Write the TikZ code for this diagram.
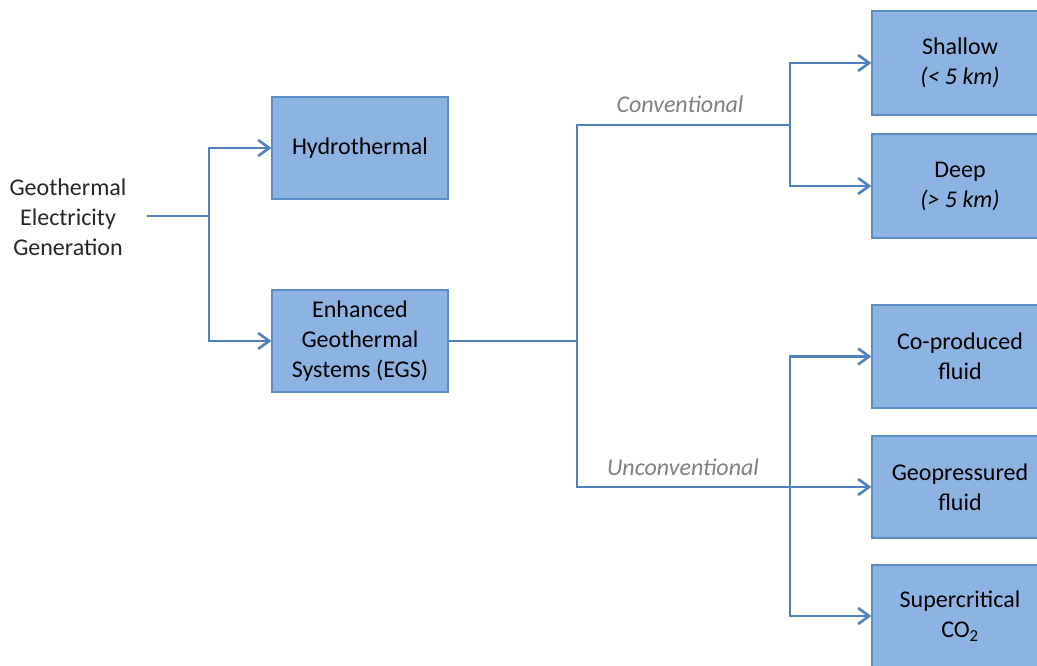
\documentclass[tikz,border=0pt]{standalone}
\usepackage{fontspec}
\setmainfont{Carlito}
\usetikzlibrary{arrows.meta}
\definecolor{boxfill}{HTML}{8DB3E2}
\definecolor{boxline}{HTML}{5B8CC8}
\definecolor{conncol}{HTML}{4F81BD}
\definecolor{lblgray}{HTML}{808080}
\tikzset{
  bx/.style={draw=boxline, line width=1.3pt, fill=boxfill, minimum width=176pt, minimum height=102pt, align=center, inner sep=0pt, font=\fontsize{24}{30}\selectfont, text=black},
  conn/.style={draw=conncol, line width=2.6pt},
  arr/.style={conn, -{Straight Barb[length=11pt,width=16pt]}},
  lbl/.style={font=\fontsize{24}{30}\selectfont\itshape, text=lblgray, inner sep=0pt}
}
\begin{document}
\begin{tikzpicture}[x=1pt,y=-1pt]
\useasboundingbox (0,0) rectangle (1037,666);
\clip (0,0) rectangle (1037,666);
\node[align=center, font=\fontsize{24}{30}\selectfont, text=black!85, inner xsep=20pt, inner ysep=0pt] (src) at (68,217) {Geothermal\\Electricity\\Generation};
\node[bx] (hyd) at (360,148) {Hydrothermal};
\node[bx] (egs) at (360,341) {Enhanced\\Geothermal\\Systems (EGS)};
\node[bx, minimum height=104pt] (sha) at (960,63) {Shallow\\\textit{(< 5 km)}};
\node[bx, minimum height=104pt] (dee) at (960,186) {Deep\\\textit{(> 5 km)}};
\node[bx, minimum height=103pt] (cop) at (960,356.5) {Co-produced\\fluid};
\node[bx] (geo) at (960,487) {Geopressured\\fluid};
\node[bx] (sup) at (960,616) {Supercritical\\CO\textsubscript{2}};
\coordinate (j1) at (209,216);
\coordinate (j2) at (577,341);
\coordinate (jc) at (790,125);
\coordinate (ju) at (790,487);
\draw[conn] (src.east |- j1) -- (j1);
\draw[arr] (j1) |- (hyd.west);
\draw[arr] (j1) |- (egs.west);
\draw[conn] (egs.east) -- (j2);
\draw[conn] (j2) |- (jc);
\draw[conn] (j2) |- (ju);
\draw[arr] (jc) |- (sha.west);
\draw[arr] (jc) |- (dee.west);
\draw[arr] (ju) |- (cop.west);
\draw[arr] (ju) -- (geo.west);
\draw[arr] (ju) |- (sup.west);
\node[lbl] (lconv) at (680,104) {Conventional};
\node[lbl] (lunconv) at (683,467) {Unconventional};
\end{tikzpicture}
\end{document}
